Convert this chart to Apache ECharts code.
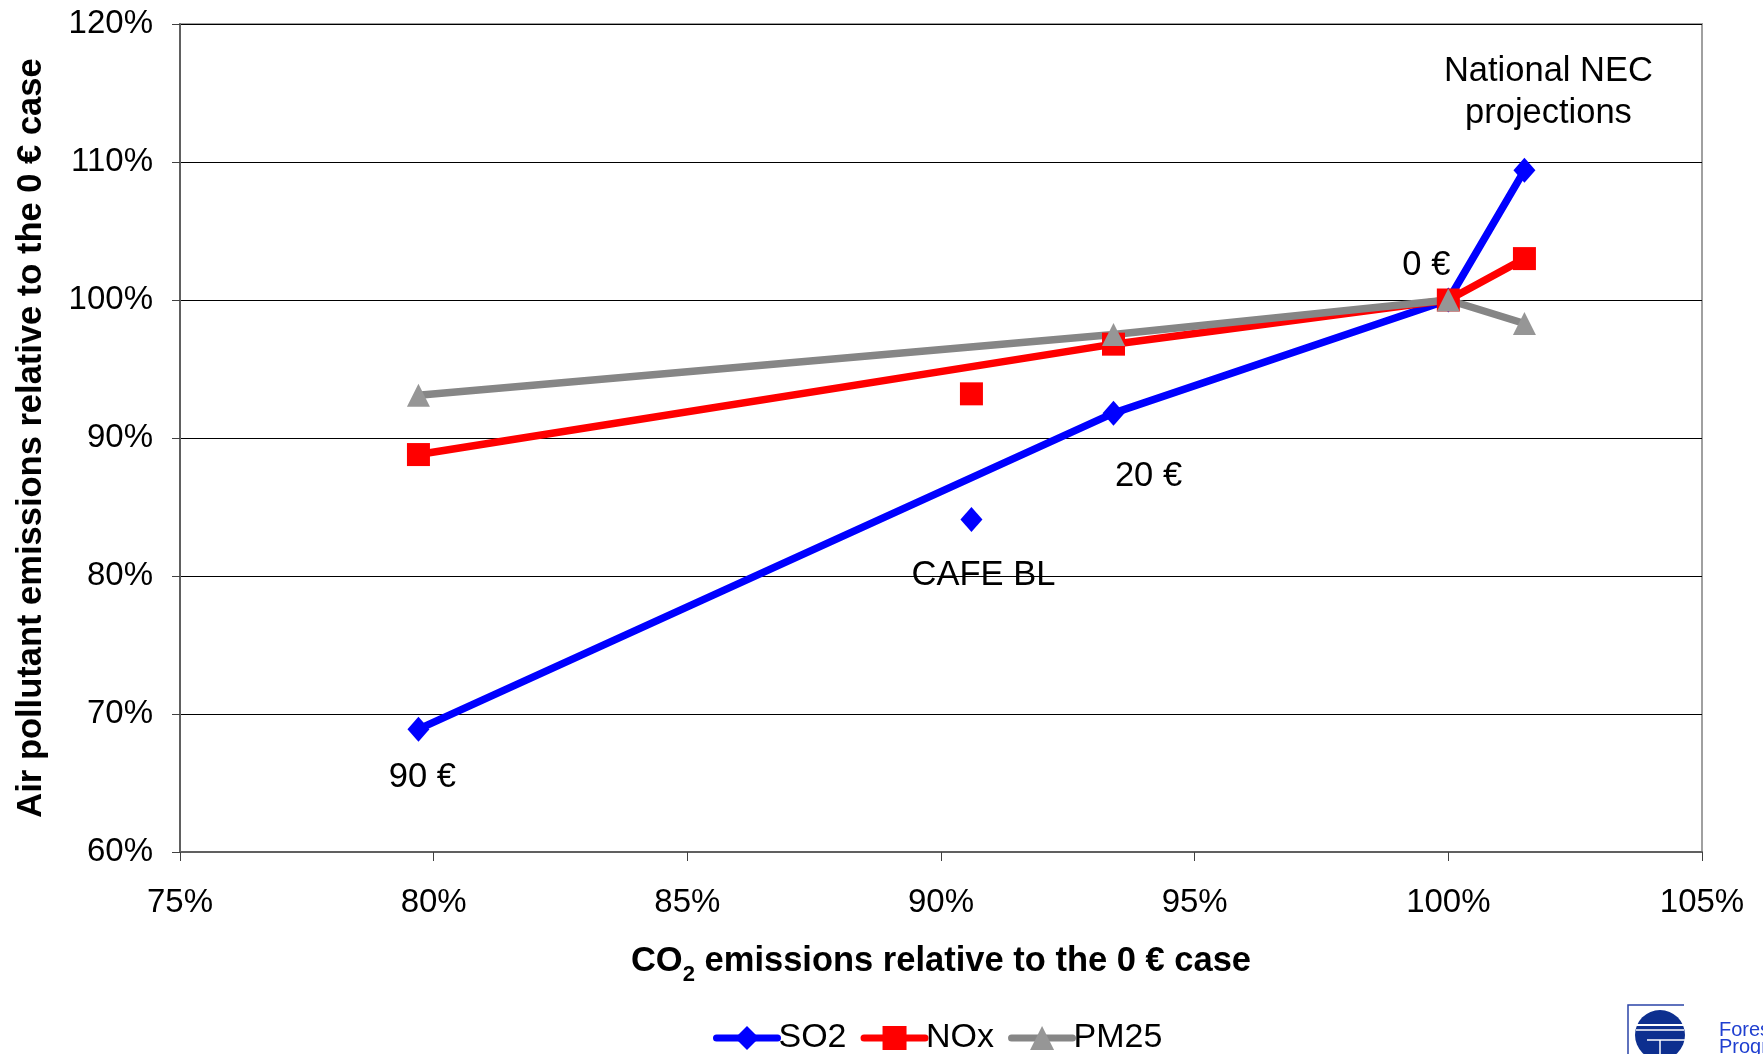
<!DOCTYPE html>
<html>
<head>
<meta charset="utf-8">
<script src="https://cdn.jsdelivr.net/npm/echarts@6/dist/echarts.min.js"></script>
<style>
  html, body { margin: 0; padding: 0; background: #ffffff; }
  #chart { width: 1763px; height: 1054px; }
</style>
</head>
<body>
<div id="chart"></div>
<script>
// Carbon-price scenarios (last one is the CAFE baseline, drawn as a lone point)
const scenarios = ['90 €', '20 €', '0 €', 'National NEC\nprojections', 'CAFE BL'];
// CO2 emissions relative to the 0 € case (%)
const co2 = [79.7, 93.4, 100, 101.5, 90.6];
// Air pollutant emissions relative to the 0 € case (%)
const so2 = [68.9, 91.8, 100, 109.4, 84.1];
const nox = [88.8, 96.8, 100, 103.0, 93.2];
const pm25 = [93.1, 97.5, 100, 98.3, null];
// Axis ranges (%): min, max, step
const xRange = [75, 105, 5];
const yRange = [60, 120, 10];

const FONT = "'Liberation Sans', Arial, Helvetica, sans-serif";

// Label placement around the SO2 markers
const labelOffsets = {
  '90 €': [4, 48],
  '20 €': [35, 63],
  '0 €': [-22, -35],
  'National NEC\nprojections': [24, -78],
  'CAFE BL': [12, 56]
};

// The scenario path runs 90 € -> 20 € -> 0 € -> NEC; CAFE BL is drawn unconnected
function buildData(values, withLabels) {
  const out = [];
  for (let i = 0; i < 4; i++) {
    if (values[i] == null) continue;
    const item = { value: [co2[i], values[i]] };
    if (withLabels) item.label = labelFor(scenarios[i]);
    out.push(item);
  }
  out.push({ value: ['-', '-'] });
  if (values[4] != null) {
    const item = { value: [co2[4], values[4]] };
    if (withLabels) item.label = labelFor(scenarios[4]);
    out.push(item);
  }
  return out;
}

function labelFor(name) {
  return {
    show: true,
    position: 'inside',
    offset: labelOffsets[name],
    formatter: name,
    color: '#000',
    fontFamily: FONT,
    fontSize: 34.5,
    lineHeight: 42,
    align: 'center',
    verticalAlign: 'middle'
  };
}

function lineSeries(name, values, color, markerColor, symbol, size, withLabels) {
  return {
    name: name,
    type: 'line',
    data: buildData(values, withLabels),
    connectNulls: false,
    symbol: symbol,
    symbolSize: size,
    showAllSymbol: true,
    lineStyle: { color: color, width: 7.5 },
    itemStyle: { color: markerColor },
    emphasis: { disabled: true },
    animation: false
  };
}

const chart = echarts.init(document.getElementById('chart'), null, { renderer: 'canvas' });

chart.setOption({
  backgroundColor: '#ffffff',
  textStyle: { fontFamily: FONT },
  grid: {
    left: 180, right: 61, top: 24, bottom: 202,
    show: true, borderColor: '#a0a0a0', borderWidth: 2, backgroundColor: 'transparent'
  },
  legend: {
    left: 708, top: 1016,
    itemWidth: 61, itemHeight: 30, itemGap: 14,
    lineStyle: { width: 7, cap: 'round' },
    textStyle: { fontFamily: FONT, fontSize: 34, color: '#000', padding: [0, 0, 0, -4] },
    data: ['SO2', 'NOx', 'PM25']
  },
  xAxis: {
    type: 'value',
    min: xRange[0], max: xRange[1], interval: xRange[2],
    name: '{b|CO}{s|2}{b| emissions relative to the 0 € case}',
    nameLocation: 'middle',
    nameGap: 92,
    nameTextStyle: {
      rich: {
        b: { fontFamily: FONT, fontSize: 34.5, fontWeight: 'bold', color: '#000', verticalAlign: 'bottom' },
        s: { fontFamily: FONT, fontSize: 22, fontWeight: 'bold', color: '#000', verticalAlign: 'bottom', padding: [0, 0, -7, 0] }
      }
    },
    axisLine: { show: true, lineStyle: { color: '#606060', width: 2 } },
    axisTick: { show: true, inside: false, length: 9, lineStyle: { color: '#404040', width: 1 } },
    axisLabel: { formatter: '{value}%', fontFamily: FONT, fontSize: 33, color: '#000', margin: 34 },
    splitLine: { show: false }
  },
  yAxis: {
    type: 'value',
    min: yRange[0], max: yRange[1], interval: yRange[2],
    name: 'Air pollutant emissions relative to the 0 € case',
    nameLocation: 'middle',
    nameGap: 131,
    nameTextStyle: { fontFamily: FONT, fontSize: 34.5, fontWeight: 'bold', color: '#000' },
    axisLine: { show: true, lineStyle: { color: '#606060', width: 2 } },
    axisTick: { show: true, inside: false, length: 8, lineStyle: { color: '#404040', width: 1 } },
    axisLabel: { formatter: '{value}%', fontFamily: FONT, fontSize: 33, color: '#000', margin: 27 },
    splitLine: { show: true, lineStyle: { color: '#000', width: 1.2 } }
  },
  series: [
    lineSeries('SO2', so2, '#0000ff', '#0000ff', 'diamond', [22, 25], true),
    lineSeries('NOx', nox, '#ff0000', '#ff0000', 'rect', 23, false),
    lineSeries('PM25', pm25, '#868686', '#969696', 'triangle', 23, false)
  ],
  graphic: [
    // programme logo, cut by the page's lower right corner
    { type: 'polyline', shape: { points: [[1628, 1054], [1628, 1005], [1684, 1005]] },
      style: { stroke: '#2b44a8', lineWidth: 1.5, fill: null } },
    { type: 'circle', shape: { cx: 1660, cy: 1035, r: 25 }, style: { fill: '#0d2f8f' } },
    { type: 'line', shape: { x1: 1636, y1: 1025, x2: 1684, y2: 1025 }, style: { stroke: '#fff', lineWidth: 2 } },
    { type: 'line', shape: { x1: 1636, y1: 1030, x2: 1684, y2: 1030 }, style: { stroke: '#fff', lineWidth: 1.5 } },
    { type: 'line', shape: { x1: 1647, y1: 1040, x2: 1685, y2: 1040 }, style: { stroke: '#fff', lineWidth: 1.5 } },
    { type: 'polyline', shape: { points: [[1660, 1054], [1660, 1040]] }, style: { stroke: '#fff', lineWidth: 1.5, fill: null } },
    { type: 'text', x: 1719, y: 1030, style: { text: 'Foresight', fill: '#1f3fd0', font: "20px " + FONT, textVerticalAlign: 'middle' } },
    { type: 'text', x: 1719, y: 1047, style: { text: 'Programme', fill: '#1f3fd0', font: "20px " + FONT, textVerticalAlign: 'middle' } }
  ]
});
</script>
</body>
</html>
